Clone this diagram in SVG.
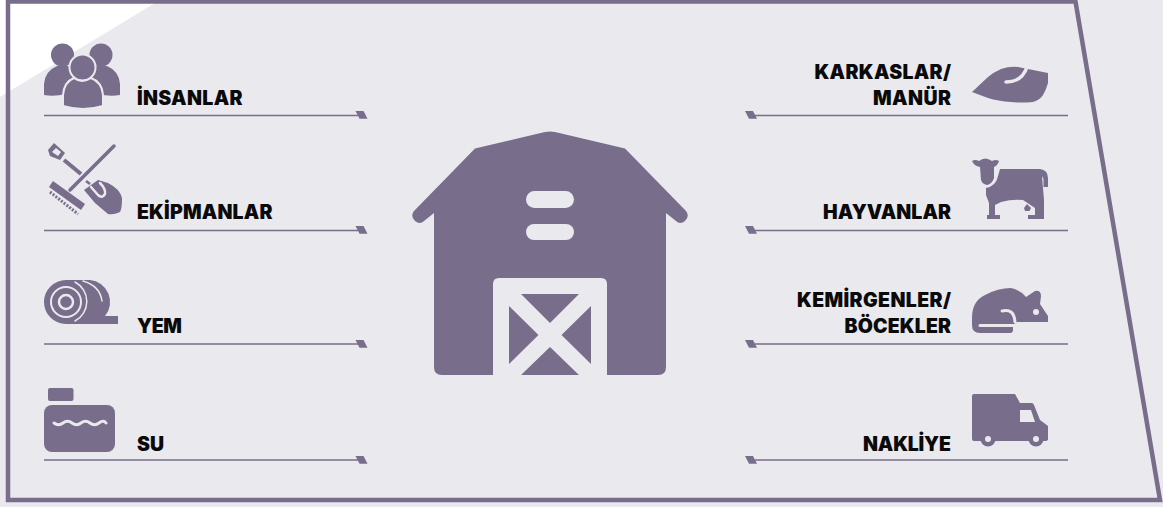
<svg xmlns="http://www.w3.org/2000/svg" width="1163" height="507" viewBox="0 0 1163 507">
<style>
.f{fill:#786e8b}
.c{fill:#e9e9ee}
.o{fill:#786e8b;stroke:#e9e9ee;stroke-width:2}
.l{stroke:#e9e9ee;fill:none;stroke-linecap:round}
.s{stroke:#786e8b;fill:none}
.t{font-family:Inter,"Liberation Sans",sans-serif;font-weight:900;font-size:19.5px;fill:#0a0a0a}
.e{text-anchor:end}
.r{stroke:#786e8b;stroke-width:1.5;fill:none}
</style>
<rect width="1163" height="507" class="c"/>
<path d="M0 0H160L0 97Z" fill="#fff"/>
<path d="M8 1.500H1075.500L1160 500H8Z" fill="none" stroke="#786e8b" stroke-width="4.500"/>
<g id="connectors">
<path class="r" d="M44 115.500H358M44 230.500H358M44 344H358M44 460H358M755 115.500H1068M755 230.500H1068M755 344H1068M755 460H1068"/>
<g class="f">
<path d="M355.500 111H363.500L367.500 118.800H359.500Z"/><path d="M355.500 226H363.500L367.500 233.800H359.500Z"/><path d="M355.500 340H363.500L367.500 347.800H359.500Z"/><path d="M355.500 456H363.500L367.500 463.800H359.500Z"/>
<path d="M745 111H753L757 118.800H749Z"/><path d="M745 226H753L757 233.800H749Z"/><path d="M745 340H753L757 347.800H749Z"/><path d="M745 456H753L757 463.800H749Z"/>
</g>
</g>
<g id="barn">
<path class="f" d="M475 148.500L545 132Q550 131 555 132L625 148.500L686 211Q690 216 685 221Q680 225 676 221L666 213V367Q666 375 658 375H442Q434 375 434 367V213L424 221Q420 225 415 221Q410 216 414 211Z"/>
<rect class="c" x="526" y="191" width="48" height="17" rx="8.500"/>
<rect class="c" x="526" y="224" width="48" height="16" rx="8"/>
<path class="c" d="M493 375V284Q493 278 499 278H601Q607 278 607 284V375Z"/>
<path class="f" d="M521 294H579L550 323ZM509 306L538.500 335L509 364ZM591 306V364L561.500 335ZM550 347L579 375H521Z"/>
</g>
<g id="insanlar">
<circle class="f" cx="62.500" cy="55" r="11.500"/><circle class="f" cx="101" cy="55" r="11.500"/>
<path class="f" d="M44 95V84Q45 71 57 66H68L82 80L66 94Q54 97 44 95ZM120 95V84Q119 71 107 66H96L82 80L98 94Q110 97 120 95Z"/>
<circle class="o" cx="82.500" cy="67.500" r="13"/>
<path class="o" d="M63 106V95Q64 82 74 78Q82 84 91 78Q102 82 103 95V106Q83 112 63 106Z"/>
<text class="t" x="137" y="105" textLength="105.500">İNSANLAR</text>
</g>
<g id="ekipmanlar">
<path class="s" stroke-width="3.500" stroke-linecap="round" d="M114 146L70 190"/>
<path class="f" d="M53 181L85 204L81 210L49 187Z"/>
<path class="s" stroke-width="3" stroke-dasharray="2 1.500" d="M50 192L78 214"/>
<path class="f" fill-rule="evenodd" d="M54 143L65 153L60 160L50 156L48 150ZM56 148L52 152L58 156L61 152Z"/>
<path class="s" stroke-width="4" d="M64 160L81 174"/>
<path class="s" stroke-width="2.500" d="M86 181L90 184"/>
<path class="f" d="M84 190L98 180L108 183Q120 189 122 198Q122 209 120 212Q114 215 108 214L95 203Z"/>
<path class="l" stroke-width="2.500" d="M91 187L98 195Q102 199 105 194Q106 189 100 183"/>
<text class="t" x="137" y="219" textLength="135.500">EKİPMANLAR</text>
</g>
<g id="yem">
<path class="f" d="M66 280H90A22 22 0 0 1 105 316H118V324H66A22 22 0 0 1 66 280Z"/>
<path class="l" stroke-width="1.500" d="M75 282A22 22 0 0 1 75 321M83 281Q100 286 102 301"/>
<circle cx="66" cy="302" r="15" fill="none" stroke="#e9e9ee" stroke-width="2"/>
<circle cx="66" cy="302" r="7" fill="none" stroke="#e9e9ee" stroke-width="2.500"/>
<text class="t" x="137" y="333" textLength="45">YEM</text>
</g>
<g id="su">
<rect class="f" x="48" y="388" width="25.500" height="13" rx="2"/>
<rect class="f" x="44" y="405" width="71" height="47" rx="8"/>
<path class="l" stroke-width="3" d="M54 423q4.500 3.500 9 0t9 0t9 0t9 0t9 0t7 0"/>
<text class="t" x="137" y="451" textLength="27">SU</text>
</g>
<g id="karkaslar">
<path class="f" d="M972 92L988 77Q994 72 1001 69Q1010 66 1018 67L1048 73V83Q1046 90 1043 95Q1040 100 1033 102Q1020 103 1011 102Q998 101 988 98Z"/>
<path class="l" stroke-width="3.500" d="M1006 82Q1022 82 1027 67"/>
<text class="t e" x="951" y="79" textLength="136.500">KARKASLAR/</text>
<text class="t e" x="951" y="105" textLength="78">MANÜR</text>
</g>
<g id="hayvanlar">
<path class="f" d="M972 161Q975 159 979 161Q985 156 992 161Q996 159 999 161Q998 165 994 167L994 178Q992 184 987 185Q982 184 981 180L980 167Q974 166 972 161Z"/>
<path class="f" d="M1000 169H1040Q1048 170 1048 178V187H1043.500V179L1042 176L1044 200V219H1028V215H1035V208L1023 200Q1012 199 1001 202L995 205V215H1000V219H987V215H989V203L986 195V188Q996 186 998 176Z"/>
<path class="f" d="M1027 204L1031 208L1029.500 211H1025L1024 208Z"/>
<text class="t e" x="951" y="219" textLength="128">HAYVANLAR</text>
</g>
<g id="kemirgenler">
<path class="f" d="M972 318Q972 301 985 295Q998 288 1011 288Q1020 290 1026 297L1035 291Q1041 290 1041 296L1040 304L1048 316V322H1017L1013 325V330Q1013 333 1010 333H980Q972 333 972 325Z"/>
<path class="l" stroke-width="3" d="M1002 311Q1014 308 1015 322M980 325.500H1014"/>
<circle class="c" cx="1036" cy="312" r="3"/>
<text class="t e" x="951" y="307" textLength="154">KEMİRGENLER/</text>
<text class="t e" x="951" y="333" textLength="106.500">BÖCEKLER</text>
</g>
<g id="nakliye">
<path class="f" d="M972 396Q972 394 974 394H1015L1020 403H1032Q1033 403 1034 405L1040 420L1048 426V440L1046 441H974Q972 441 972 439Z"/>
<path class="c" d="M1020 410H1031L1035 422H1020Z"/>
<circle class="f" cx="988" cy="439" r="7.500"/><circle class="f" cx="1036" cy="439" r="7.500"/>
<circle class="c" cx="988" cy="439" r="3"/><circle class="c" cx="1036" cy="439" r="3"/>
<text class="t e" x="951" y="451" textLength="88">NAKLİYE</text>
</g>
</svg>
